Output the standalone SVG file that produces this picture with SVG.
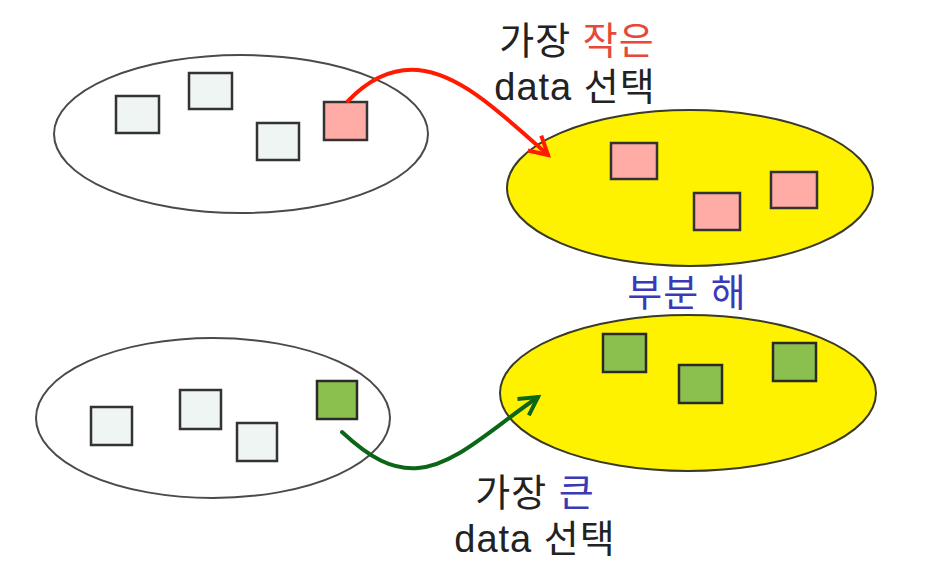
<svg xmlns="http://www.w3.org/2000/svg" width="940" height="566" viewBox="0 0 940 566">
<defs>
<style>
.set{fill:#ffffff;stroke:#4a4a4a;stroke-width:2}
.sol{fill:#fff200;stroke:#3a3a2a;stroke-width:2}
.lt{fill:#eef5f3;stroke:#333;stroke-width:2.5}
.pk{fill:#ffaca6;stroke:#333;stroke-width:2.5}
.gr{fill:#8cc04e;stroke:#2a2a2a;stroke-width:2.5}
.t{font-family:"Liberation Sans","Noto Sans CJK KR",sans-serif;font-size:38px;letter-spacing:1px;fill:#222;text-anchor:middle}
</style>
<marker id="arR" viewBox="0 0 12 12" refX="10" refY="6" markerWidth="6" markerHeight="6" orient="auto">
<path d="M1,1 L10,6 L1,11" fill="none" stroke="#ff1a00" stroke-width="2"/>
</marker>
<marker id="arG" viewBox="0 0 12 12" refX="10" refY="6" markerWidth="6" markerHeight="6" orient="auto">
<path d="M1,1 L10,6 L1,11" fill="none" stroke="#0b6618" stroke-width="2"/>
</marker>
</defs>
<rect width="940" height="566" fill="#ffffff"/>

<g id="set-top">
<ellipse class="set" cx="241" cy="134" rx="187" ry="79"/>
<rect class="lt" x="116" y="96" width="43" height="37"/>
<rect class="lt" x="189" y="73" width="43" height="36"/>
<rect class="lt" x="257" y="123" width="42" height="37"/>
<rect class="pk" x="324" y="102" width="43" height="38"/>
</g>

<g id="solution-top">
<ellipse class="sol" cx="690" cy="188" rx="183" ry="78"/>
<rect class="pk" x="611" y="143" width="46" height="36"/>
<rect class="pk" x="694" y="193" width="46" height="37"/>
<rect class="pk" x="771" y="172" width="46" height="36"/>
</g>

<g id="set-bottom">
<ellipse class="set" cx="213" cy="418" rx="177" ry="80"/>
<rect class="lt" x="91" y="407" width="41" height="38"/>
<rect class="lt" x="180" y="390" width="41" height="39"/>
<rect class="lt" x="237" y="423" width="40" height="38"/>
<rect class="gr" x="317" y="381" width="40" height="38"/>
</g>

<g id="solution-bottom">
<ellipse class="sol" cx="688" cy="393" rx="188" ry="78"/>
<rect class="gr" x="603" y="334" width="43" height="38"/>
<rect class="gr" x="679" y="365" width="43" height="38"/>
<rect class="gr" x="773" y="343" width="43" height="38"/>
</g>

<g id="connectors" fill="none" stroke-width="4" stroke-linecap="round">
<path d="M348,101 C370,78 393,68 418,70 C460,74 500,112 548,155" stroke="#ff1a00" marker-end="url(#arR)"/>
<path d="M342,432 C370,458 392,470 418,468 C455,465 490,430 538,397" stroke="#0b6618" marker-end="url(#arG)"/>
</g>

<g id="labels">
<text class="t" x="577" y="54">가장 <tspan fill="#e5493a">작은</tspan></text>
<text class="t" x="575" y="100">data 선택</text>
<text class="t" x="687" y="306" style="fill:#3a3ab8">부분 해</text>
<text class="t" x="535" y="506">가장 <tspan fill="#3a3ab8">큰</tspan></text>
<text class="t" x="535" y="552">data 선택</text>
</g>
</svg>
